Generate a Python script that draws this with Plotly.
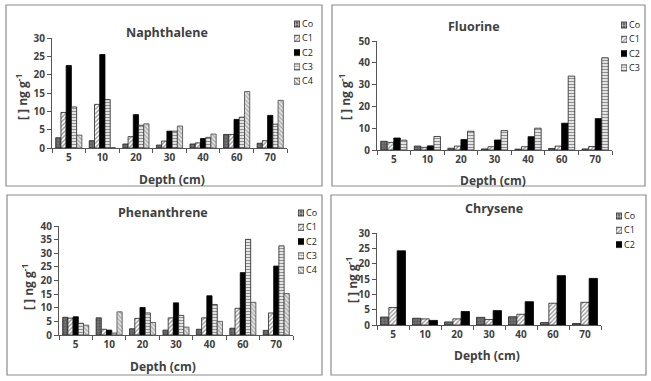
import plotly.graph_objects as go

depths = ["5", "10", "20", "30", "40", "60", "70"]

naph_Co = [2.8, 2.0, 1.1, 0.8, 1.1, 3.7, 1.3]
naph_C1 = [9.7, 11.9, 3.1, 1.9, 1.4, 3.7, 2.0]
naph_C2 = [22.5, 25.5, 9.1, 4.6, 2.6, 7.8, 8.9]
naph_C3 = [11.2, 13.2, 6.2, 4.6, 2.9, 8.4, 6.5]
naph_C4 = [3.5, 0.1, 6.6, 6.0, 3.8, 15.4, 13.0]

fluo_Co = [4.0, 1.8, 0.8, 0.5, 0.4, 0.7, 0.5]
fluo_C1 = [3.5, 1.2, 1.8, 1.5, 1.5, 1.8, 1.6]
fluo_C2 = [5.5, 1.9, 4.8, 4.6, 6.1, 12.3, 14.4]
fluo_C3 = [4.5, 6.2, 8.6, 8.9, 10.0, 33.9, 42.3]

phen_Co = [6.5, 6.3, 2.3, 1.8, 2.1, 2.5, 1.7]
phen_C1 = [6.2, 2.1, 6.1, 6.3, 6.3, 9.8, 8.1]
phen_C2 = [6.7, 1.8, 10.1, 11.8, 14.4, 22.9, 25.3]
phen_C3 = [4.3, 0.7, 8.1, 7.2, 11.2, 35.1, 32.7]
phen_C4 = [3.6, 8.5, 4.6, 2.9, 5.0, 12.0, 15.2]

chry_Co = [2.6, 2.2, 1.0, 2.5, 2.7, 0.8, 0.5]
chry_C1 = [5.7, 2.0, 2.0, 1.8, 3.5, 7.1, 7.4]
chry_C2 = [24.2, 1.5, 4.4, 4.7, 7.6, 16.1, 15.2]

W, H = 651, 381
FONT = "Open Sans"
TXT = "#404040"

styles = {
    "Co": dict(color="#666666", line=dict(color="#222", width=0.8),
               pattern=dict(shape="+", fgcolor="#333", bgcolor="#707070", size=3, solidity=0.3)),
    "C1": dict(color="white", line=dict(color="#222", width=0.8),
               pattern=dict(shape="/", fgcolor="#333", bgcolor="white", size=3, solidity=0.45)),
    "C2": dict(color="black", line=dict(color="black", width=0.8),
               pattern=dict(shape="", fgcolor="black", bgcolor="black", size=3, solidity=0.5)),
    "C3": dict(color="white", line=dict(color="#222", width=0.8),
               pattern=dict(shape="-", fgcolor="#222", bgcolor="white", size=3, solidity=0.5)),
    "C4": dict(color="white", line=dict(color="#444", width=0.8),
               pattern=dict(shape="\\", fgcolor="#777", bgcolor="#e8e8e8", size=3, solidity=0.5)),
}

panels = [
    dict(name="Naphthalene", series=[("Co", naph_Co), ("C1", naph_C1), ("C2", naph_C2), ("C3", naph_C3), ("C4", naph_C4)],
         px=(52, 287), py=(148, 38), ymax=30, dtick=5, box=(6, 5, 322, 186),
         leg=(294, 24), title=(167, 33), xlab=(172, 179), ylab=(22, 97)),
    dict(name="Fluorine", series=[("Co", fluo_Co), ("C1", fluo_C1), ("C2", fluo_C2), ("C3", fluo_C3)],
         px=(377, 612), py=(150, 41), ymax=50, dtick=10, box=(332, 5, 645, 186),
         leg=(621, 25), title=(474, 26), xlab=(493, 180), ylab=(345, 97)),
    dict(name="Phenanthrene", series=[("Co", phen_Co), ("C1", phen_C1), ("C2", phen_C2), ("C3", phen_C3), ("C4", phen_C4)],
         px=(59, 293), py=(335, 226), ymax=40, dtick=5, box=(7, 195, 322, 375),
         leg=(298, 213), title=(163, 212), xlab=(163, 366), ylab=(28, 287)),
    dict(name="Chrysene", series=[("Co", chry_Co), ("C1", chry_C1), ("C2", chry_C2)],
         px=(377, 601), py=(325, 233), ymax=30, dtick=5, box=(331, 195, 646, 375),
         leg=(616, 216), title=(494, 209), xlab=(487, 355), ylab=(352, 280)),
]

SW = 6       # legend swatch size (px)
STEP = 14.3  # legend row spacing (px)

fig = go.Figure()
layout = dict(width=W, height=H, margin=dict(l=0, r=0, t=0, b=0, autoexpand=False),
              paper_bgcolor="white", plot_bgcolor="white", barmode="group",
              bargap=0.22, bargroupgap=0.0, showlegend=False,
              font=dict(family=FONT, color=TXT))
shapes, annots = [], []

for i, p in enumerate(panels, start=1):
    sx = "" if i == 1 else str(i)
    for nm, vals in p["series"]:
        fig.add_trace(go.Bar(x=depths, y=vals, name=nm, marker=styles[nm],
                             xaxis="x" + sx, yaxis="y" + sx))
    x0, x1 = p["px"]
    yb, yt = p["py"]
    layout["xaxis" + sx] = dict(domain=[x0 / W, x1 / W], anchor="y" + sx, type="category",
                                automargin=False,
                                showline=True, linecolor="#555", linewidth=1,
                                ticks="outside", tickson="boundaries", ticklen=4, tickcolor="#555",
                                tickfont=dict(size=10, family=FONT, color=TXT, weight="bold"),
                                showgrid=False, zeroline=False)
    layout["yaxis" + sx] = dict(domain=[1 - yb / H, 1 - yt / H], anchor="x" + sx,
                                automargin=False,
                                range=[0, p["ymax"]], dtick=p["dtick"],
                                showline=True, linecolor="#555", linewidth=1,
                                ticks="outside", ticklen=4, tickcolor="#555",
                                tickfont=dict(size=10, family=FONT, color=TXT, weight="bold"),
                                showgrid=False, zeroline=False)

    # legend drawn as a small horizontal bar chart of swatches
    names = [nm for nm, _ in p["series"]]
    n = len(names)
    lx, ly = p["leg"]
    lk = str(4 + i)
    fig.add_trace(go.Bar(
        y=names, x=[1] * n, orientation="h", width=SW / STEP,
        marker=dict(color=[styles[nm]["color"] for nm in names],
                    line=dict(color="#222", width=0.8),
                    pattern=dict(shape=[styles[nm]["pattern"]["shape"] for nm in names],
                                 fgcolor=[styles[nm]["pattern"]["fgcolor"] for nm in names],
                                 bgcolor=[styles[nm]["pattern"]["bgcolor"] for nm in names],
                                 size=3, solidity=0.45)),
        xaxis="x" + lk, yaxis="y" + lk, hoverinfo="skip"))
    top = ly - STEP / 2
    bot = ly + (n - 0.5) * STEP
    layout["xaxis" + lk] = dict(domain=[lx / W, (lx + SW) / W], anchor="y" + lk, range=[0, 1],
                                visible=False, fixedrange=True, automargin=False)
    layout["yaxis" + lk] = dict(domain=[1 - bot / H, 1 - top / H], anchor="x" + lk,
                                type="category", range=[n - 0.5, -0.5], side="right",
                                automargin=False,
                                showline=False, showgrid=False, zeroline=False, ticks="",
                                ticklabelstandoff=1,
                                tickfont=dict(size=9, family=FONT, color="#222"), fixedrange=True)

    bx0, by0, bx1, by1 = p["box"]
    shapes.append(dict(type="rect", xref="paper", yref="paper",
                       x0=bx0 / W, x1=bx1 / W, y0=1 - by1 / H, y1=1 - by0 / H,
                       line=dict(color="#8c8c8c", width=1.2)))
    tx, ty = p["title"]
    annots.append(dict(text=p["name"], x=tx / W, y=1 - ty / H, xref="paper", yref="paper",
                       showarrow=False, xanchor="center", yanchor="middle",
                       font=dict(size=12.5, family=FONT, color=TXT, weight="bold")))
    dx, dy = p["xlab"]
    annots.append(dict(text="Depth (cm)", x=dx / W, y=1 - dy / H, xref="paper", yref="paper",
                       showarrow=False, xanchor="center", yanchor="middle",
                       font=dict(size=12, family=FONT, color=TXT, weight="bold")))
    yx, yy = p["ylab"]
    annots.append(dict(text="[ ] ng g<sup>-1</sup>", x=yx / W, y=1 - yy / H, xref="paper", yref="paper",
                       showarrow=False, xanchor="center", yanchor="middle", textangle=-90,
                       font=dict(size=12, family=FONT, color=TXT, weight="bold")))

layout["shapes"] = shapes
layout["annotations"] = annots
fig.update_layout(**layout)
fig.write_html("out.html", config={"displayModeBar": False, "staticPlot": True},
               post_script="document.body.style.margin='0';document.body.style.overflow='hidden';")
